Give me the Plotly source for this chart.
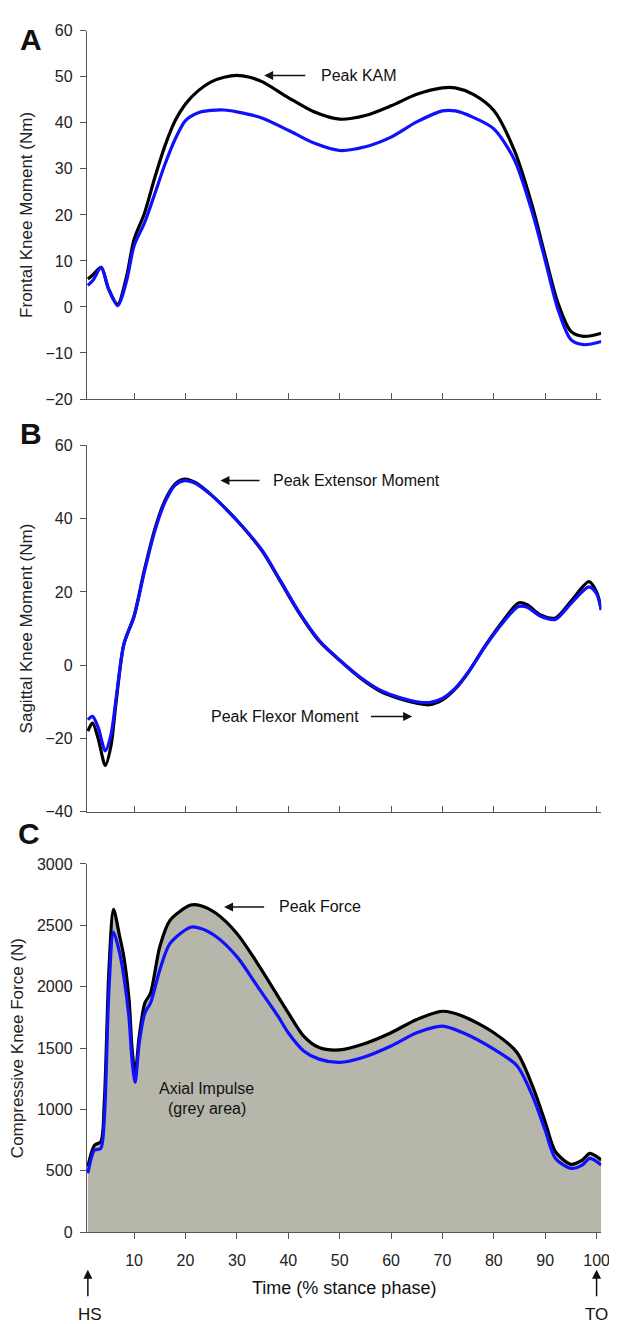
import plotly.graph_objects as go

W, H = 617, 1324

# ---------------- data ----------------
xa = [1, 2, 3.6, 5, 6.8, 8.5, 10, 12, 14, 16, 18, 20, 22.5, 25, 27.5, 30, 32.5, 35,
      40, 45, 50, 55, 60, 65, 70, 72.5, 76, 80, 84, 87.5, 90, 92.5, 95, 97.5, 100.9]
a_black = [6.1, 7.0, 8.6, 4.0, 0.6, 6.5, 14.7, 20.3, 28, 35, 40.5, 44.1, 47, 48.9, 49.9, 50.3, 49.9, 48.9,
           45.5, 42.4, 40.8, 41.6, 43.7, 46.2, 47.6, 47.6, 46.2, 42.7, 34, 21.9, 11.1, 0.8, -5.3, -6.4, -5.7]
a_blue = [4.7, 5.8, 8.6, 4.0, 0.3, 5.5, 13.3, 18.2, 24.5, 31, 36.5, 40.5, 42.2, 42.7, 42.8, 42.4, 41.8, 41,
          38.4, 35.6, 34, 34.8, 36.9, 40.2, 42.6, 42.6, 41.2, 38.7, 32, 20.5, 10.1, -0.6, -7.1, -8.2, -7.5]

xb = [1, 1.9, 3, 4.4, 5.5, 6.5, 8, 10, 12, 14, 16, 18, 19.8, 22, 25, 28, 31, 35, 38.5, 42, 46,
      50, 54, 58, 62, 65, 67.5, 70, 72.5, 75, 78.5, 82, 84.8, 86.5, 89, 92, 95, 98.5, 100, 100.9]
b_black = [-18, -15.8, -20, -27.4, -22, -10, 5.7, 13.5, 26, 37, 45, 49.5, 50.8, 49.8, 46.5, 42.5, 38, 31,
           22.8, 14.5, 6.6, 1.3, -3.5, -7.2, -9.3, -10.4, -10.8, -9.5, -6.5, -2, 5.7, 12.5, 17, 16.5,
           13.8, 12.9, 17.4, 22.8, 20, 15.2]
b_blue = [-14.9, -14, -17, -23.4, -19, -9, 5.7, 13.3, 25.5, 36.5, 44.5, 49.2, 50.4, 49.6, 46.5, 42.5, 38,
          31.2, 23, 14.7, 6.8, 1.4, -3.3, -6.9, -9, -10, -10.2, -9.1, -6.3, -2, 5.5, 12, 16, 15.8,
          13.4, 12.5, 16.8, 21.4, 19.5, 15]

xc = [1, 2.3, 3.5, 4.2, 5.1, 6.0, 7.2, 8, 9, 9.6, 10.2, 11, 12.1, 13.2, 15, 17, 21, 23, 26, 30, 34,
      38, 40, 43, 46, 50, 54.5, 60, 65, 70, 74, 80, 84.5, 87.5, 90, 92, 95, 97.2, 98.7, 100.9]
c_black = [534, 709, 736, 1059, 2137, 2630, 2407, 2245, 1900, 1500, 1288, 1598, 1868, 1949, 2326, 2542,
           2665, 2660, 2596, 2434, 2191, 1922, 1787, 1598, 1504, 1485, 1531, 1625, 1733, 1800, 1760,
           1625, 1464, 1194, 898, 655, 553, 588, 642, 588]
c_blue = [480, 668, 682, 924, 1976, 2445, 2272, 2084, 1750, 1400, 1221, 1544, 1787, 1868, 2137, 2353,
          2485, 2474, 2407, 2245, 2003, 1760, 1625, 1477, 1410, 1383, 1423, 1517, 1625, 1679, 1625,
          1491, 1356, 1113, 830, 601, 520, 547, 601, 547]

xticks = [10, 20, 30, 40, 50, 60, 70, 80, 90, 100]
a_ticks = [-20, -10, 0, 10, 20, 30, 40, 50, 60]
b_ticks = [-40, -20, 0, 20, 40, 60]
c_ticks = [0, 500, 1000, 1500, 2000, 2500, 3000]

# ---------------- layout helpers ----------------
def py(p):
    return 1 - p / H

XDOM = [80 / W, 602 / W]
XR = [0.8, 100.9]
FONT = "Liberation Sans, Arial, sans-serif"
AXC = "#555555"
BLACK = "#000000"
BLUE = "#1010ff"
FILL = "#b6b6ab"
LW = 3.2

fig = go.Figure()
fig.add_trace(go.Scatter(x=xa, y=a_black, mode="lines", line=dict(color=BLACK, width=LW, shape="spline", smoothing=0.8),
                         xaxis="x", yaxis="y", showlegend=False))
fig.add_trace(go.Scatter(x=xa, y=a_blue, mode="lines", line=dict(color=BLUE, width=LW, shape="spline", smoothing=0.8),
                         xaxis="x", yaxis="y", showlegend=False))
fig.add_trace(go.Scatter(x=xb, y=b_black, mode="lines", line=dict(color=BLACK, width=LW, shape="spline", smoothing=0.8),
                         xaxis="x2", yaxis="y2", showlegend=False))
fig.add_trace(go.Scatter(x=xb, y=b_blue, mode="lines", line=dict(color=BLUE, width=LW, shape="spline", smoothing=0.8),
                         xaxis="x2", yaxis="y2", showlegend=False))
fig.add_trace(go.Scatter(x=xc, y=c_black, mode="lines", fill="tozeroy", fillcolor=FILL,
                         line=dict(color=BLACK, width=LW, shape="spline", smoothing=0.8),
                         xaxis="x3", yaxis="y3", showlegend=False))
fig.add_trace(go.Scatter(x=xc, y=c_blue, mode="lines", line=dict(color=BLUE, width=LW, shape="spline", smoothing=0.8),
                         xaxis="x3", yaxis="y3", showlegend=False))

def xaxis(anchor, labels, ticks):
    return dict(domain=XDOM, range=XR, anchor=anchor, showline=True, linecolor=AXC, linewidth=1.2,
                ticks=ticks, ticklen=6, tickcolor=AXC, tickwidth=1.2, tickvals=xticks,
                showticklabels=labels, showgrid=False, zeroline=False, ticklabelstandoff=8,
                tickfont=dict(family=FONT, size=16, color="#222"))

def yaxis(anchor, dom, rng, tv, title):
    return dict(domain=dom, range=rng, anchor=anchor, showline=True, linecolor=AXC, linewidth=1.2,
                ticks="outside", ticklen=6, tickcolor=AXC, tickwidth=1.2, tickvals=tv,
                showgrid=False, zeroline=False, ticklabelstandoff=4,
                tickfont=dict(family=FONT, size=16, color="#222"),
                title=dict(text=title, font=dict(family=FONT, size=17, color="#222"), standoff=8))

fig.update_layout(
    width=W, height=H, margin=dict(l=0, r=0, t=0, b=0),
    paper_bgcolor="white", plot_bgcolor="white",
    xaxis=xaxis("y", False, "inside"),
    xaxis2=xaxis("y2", False, "inside"),
    xaxis3=xaxis("y3", True, "outside"),
    yaxis=yaxis("x", [py(388), py(15)], [-20, 60], a_ticks, "Frontal Knee Moment (Nm)"),
    yaxis2=yaxis("x2", [py(806), py(435)], [-40, 60], b_ticks, "Sagittal Knee Moment (Nm)"),
    yaxis3=yaxis("x3", [py(1232), py(859)], [0, 3000], c_ticks, "Compressive Knee Force (N)"),
)

ann = []
def text(x, y, s, xref, yref, size=16, xanchor="left", bold=False):
    ann.append(dict(x=x, y=y, xref=xref, yref=yref, text=("<b>%s</b>" % s) if bold else s,
                    showarrow=False, xanchor=xanchor, yanchor="middle",
                    font=dict(family=FONT, size=size, color="#111")))

def arrow(hx, hy, tx, ty, xref, yref):
    ann.append(dict(x=hx, y=hy, ax=tx, ay=ty, xref=xref, yref=yref, axref=xref, ayref=yref,
                    text="", showarrow=True, arrowhead=2, arrowsize=1.2, arrowwidth=1.5, arrowcolor="#111"))

# panel letters
text(23 / W, py(24), "A", "paper", "paper", 30, "center", True)
text(23 / W, py(423), "B", "paper", "paper", 30, "center", True)
text(21 / W, py(828), "C", "paper", "paper", 30, "center", True)

# A
arrow(35.3, 50.3, 43.6, 50.3, "x", "y")
text(46.0, 50.3, "Peak KAM", "x", "y")
# B
arrow(26.8, 50.4, 34.7, 50.4, "x2", "y2")
text(36.6, 50.4, "Peak Extensor Moment", "x2", "y2")
text(24.5, -14, "Peak Flexor Moment", "x2", "y2")
arrow(64.1, -14, 55.8, -14, "x2", "y2")
# C
arrow(27.5, 2650, 35.6, 2650, "x3", "y3")
text(37.8, 2650, "Peak Force", "x3", "y3")
text(24.1, 1167, "Axial Impulse", "x3", "y3", 16, "center")
text(24.1, 1011, "(grey area)", "x3", "y3", 16, "center")

# HS / TO
for xv, lab, tx in [(1.0, "HS", 1.5), (100, "TO", 100)]:
    ann.append(dict(x=xv, y=py(1270), xref="x3", yref="paper", ax=0, ay=28, text="",
                    showarrow=True, arrowhead=2, arrowsize=1.2, arrowwidth=1.5, arrowcolor="#111"))
    ann.append(dict(x=tx, y=py(1315), xref="x3", yref="paper", text=lab, showarrow=False,
                    xanchor="center", yanchor="middle", font=dict(family=FONT, size=17, color="#111")))

ann.append(dict(x=(XDOM[0] + XDOM[1]) / 2, y=py(1289), xref="paper", yref="paper",
                text="Time (% stance phase)", showarrow=False, xanchor="center", yanchor="middle",
                font=dict(family=FONT, size=18, color="#111")))

fig.update_layout(annotations=ann)
fig.write_html("out.html")
